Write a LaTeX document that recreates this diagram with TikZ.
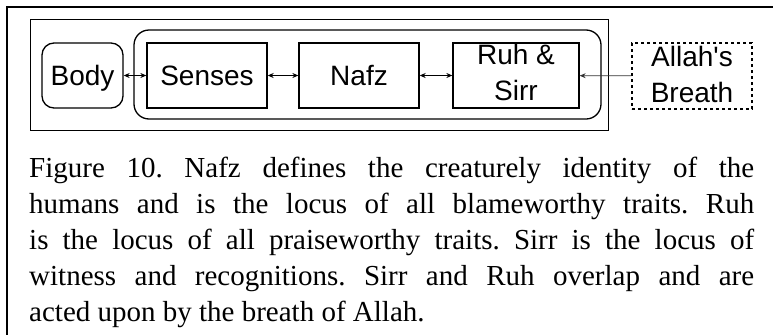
\documentclass[tikz,border=0pt]{standalone}
\usepackage{fontspec}
\setmainfont{Liberation Serif}
\newfontfamily\diagfont{Liberation Sans}[Ligatures=TeXOff]
\usetikzlibrary{arrows.meta,positioning}

\tikzset{
	part/.style={draw,line width=1.3pt,minimum height=65pt,inner sep=0pt,
		font=\diagfont\fontsize{28}{36}\selectfont,align=center},
	oneline/.style={text height=19.5pt,text depth=0pt},
	link/.style={line width=1pt,{Stealth[length=6pt,width=5pt]}-{Stealth[length=6pt,width=5pt]}}
}

\begin{document}
\begin{tikzpicture}[x=1pt,y=-1pt]
	\useasboundingbox (0,0) rectangle (773,335);
	% frame of the figure
	\draw[line width=2.7pt] (773,7) -- (7,7) -- (7,335);
	\node[draw,line width=1pt,minimum width=578pt,minimum height=111pt] (frame) at (319,74.5) {};
	\node[draw,line width=1.3pt,rounded corners=15pt,minimum width=467pt,minimum height=89pt] (soul) at (367.5,74.5) {};
	% parts
	\node[part,oneline,rounded corners=12pt,minimum width=81pt] (body) at (82.5,75.5) {Body};
	\node[part,oneline,minimum width=120pt] (senses) at (207,75.5) {Senses};
	\node[part,oneline,minimum width=120pt] (nafz) at (359,75.5) {Nafz};
	\node[part,text depth=6.5pt,minimum width=126pt] (ruh) at (516,75.5) {Ruh \&\\Sirr};
	\node[part,text depth=4pt,dash pattern=on 3pt off 3pt,minimum width=120pt,minimum height=66pt] (breath) at (692,76) {Allah's\\Breath};
	\draw[link] (body) -- (senses);
	\draw[link] (senses) -- (nafz);
	\draw[link] (nafz) -- (ruh);
	\draw[line width=0.8pt,black!80,-{Stealth[length=6pt,width=5pt]}] (breath) -- (ruh);
	% caption
	\node[anchor=north west,inner sep=0pt,text width=725pt,align=justify,
		font=\fontsize{29}{36}\selectfont\frenchspacing] (caption) at (29,157) {Figure 10. Nafz defines the creaturely identity of the\linebreak humans and is the locus of all blameworthy traits. Ruh\linebreak is the locus of all praiseworthy traits. Sirr is the locus of\linebreak witness and recognitions. Sirr and Ruh overlap and are\linebreak acted upon by the breath of Allah.};
\end{tikzpicture}
\end{document}
